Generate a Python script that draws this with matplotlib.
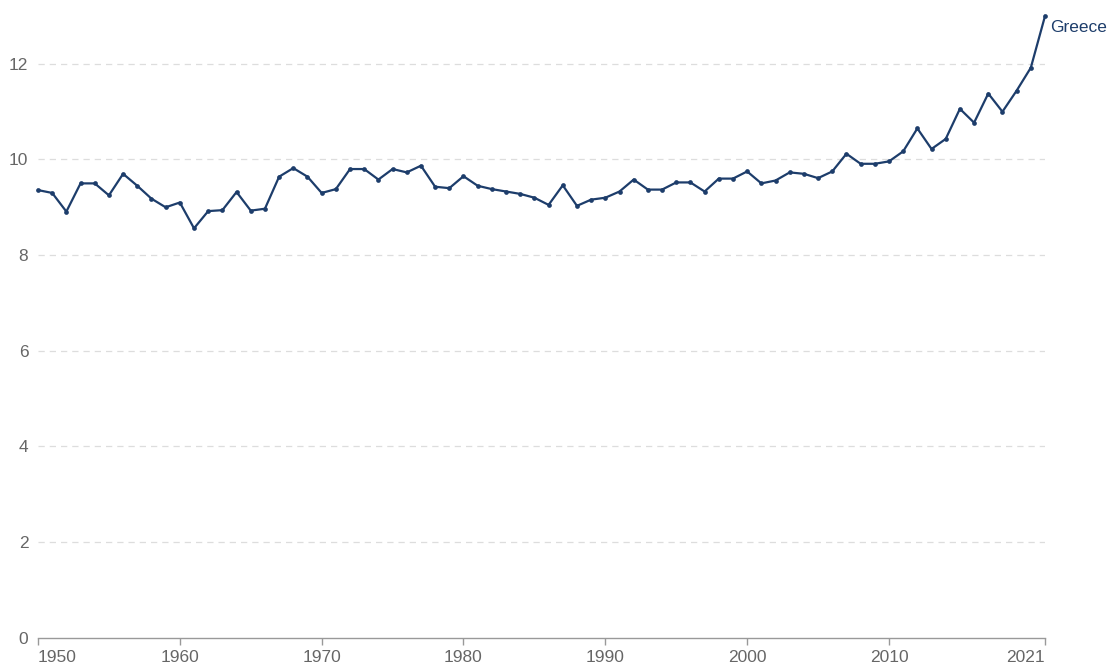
import matplotlib
matplotlib.use("Agg")
import matplotlib.pyplot as plt

plt.rcParams['font.family'] = ['Liberation Sans', 'DejaVu Sans']

years = list(range(1950, 2022))
values = [
    9.36, 9.30, 8.91, 9.50, 9.50, 9.25, 9.70, 9.45, 9.18, 9.00,
    9.10, 8.56, 8.92, 8.94, 9.32, 8.93, 8.97, 9.64, 9.82, 9.64,
    9.30, 9.38, 9.80, 9.80, 9.58, 9.80, 9.73, 9.87, 9.43, 9.40,
    9.65, 9.45, 9.38, 9.33, 9.28, 9.20, 9.05, 9.46, 9.03, 9.16,
    9.20, 9.33, 9.58, 9.37, 9.37, 9.52, 9.52, 9.33, 9.60, 9.60,
    9.75, 9.50, 9.56, 9.73, 9.70, 9.61, 9.75, 10.12, 9.91, 9.91,
    9.96, 10.17, 10.65, 10.22, 10.43, 11.06, 10.77, 11.38, 11.00, 11.44,
    11.92, 13.00,
]
series_label = "Greece"
x_ticks = [1950, 1960, 1970, 1980, 1990, 2000, 2010, 2021]
y_ticks = [0, 2, 4, 6, 8, 10, 12]

W, H = 1114, 666
fig = plt.figure(figsize=(W / 100, H / 100), dpi=100)
left, right = 38 / W, 1045 / W
bottom = 28.5 / H
top = 1 - 11.3 / H
ax = fig.add_axes([left, bottom, right - left, top - bottom])

navy = '#1d3d6b'
grey_text = '#666666'

ax.plot(years, values, color=navy, lw=1.6, marker='o', markersize=3.4,
        markeredgewidth=0, clip_on=False, zorder=3)

ax.set_xlim(1950, 2021)
ax.set_ylim(0, 13.1)

for y in y_ticks[1:]:
    ax.axhline(y, color='#dddddd', lw=0.9, ls=(0, (5, 4)), zorder=1)

for s in ['top', 'right', 'left']:
    ax.spines[s].set_visible(False)
ax.spines['bottom'].set_color('#999999')
ax.spines['bottom'].set_linewidth(1.0)

ax.set_yticks(y_ticks)
ax.set_yticklabels([str(v) for v in y_ticks])
ax.tick_params(axis='y', length=0, pad=7, labelsize=12.5, labelcolor=grey_text)

ax.set_xticks(x_ticks)
ax.set_xticklabels([str(v) for v in x_ticks])
ax.tick_params(axis='x', length=5, width=1.0, color='#999999', pad=4,
               labelsize=12.5, labelcolor=grey_text)
xl = ax.get_xticklabels()
xl[0].set_horizontalalignment('left')
xl[-1].set_horizontalalignment('right')

ax.annotate(series_label, xy=(years[-1], values[-1]), xytext=(4, -8),
            textcoords='offset points', color=navy, fontsize=12.5,
            ha='left', va='center', annotation_clip=False)

fig.savefig('out.png', dpi=100)
